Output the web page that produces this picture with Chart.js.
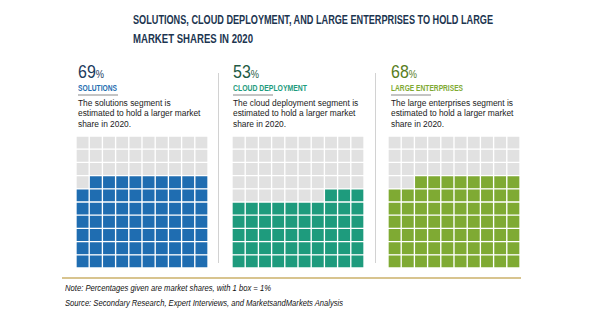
<!DOCTYPE html>
<html>
<head>
<meta charset="utf-8">
<script src="https://cdn.jsdelivr.net/npm/chart.js@4.4.1/dist/chart.umd.min.js"></script>
<style>
  body { margin: 0; width: 600px; height: 325px; background: #fff; position: relative; overflow: hidden;
         font-family: "Liberation Sans", Arial, sans-serif; }
  .abs { position: absolute; white-space: nowrap; transform-origin: 0 0; }
  .title { font-weight: bold; font-size: 13px; line-height: 13px; color: #1c3550; }
  .num { font-size: 19px; line-height: 19px; }
  .num small { font-size: 11px; }
  .seg { font-weight: bold; font-size: 9px; line-height: 9px; }
  .rule { height: 2px; width: 40px; background: #c4c4c4; }
  .desc { font-size: 8.4px; line-height: 10.3px; color: #1a1a1a; }
  .sep { width: 1px; background: #d2d2d2; top: 73px; height: 190px; }
  #gold { left: 62px; top: 277px; width: 459px; height: 1.5px; background: #d8c48f; }
  .note { font-style: italic; font-size: 9px; line-height: 9px; color: #111; }
</style>
</head>
<body>
<div class="abs title" style="left:133px;top:13px" data-fit="360">SOLUTIONS, CLOUD DEPLOYMENT, AND LARGE ENTERPRISES TO HOLD LARGE</div>
<div class="abs title" style="left:133px;top:31.5px" data-fit="120">MARKET SHARES IN 2020</div>
<div class="abs sep" style="left:218px"></div>
<div class="abs sep" style="left:375px"></div>
<div id="gold" class="abs"></div>
<div class="abs note" style="left:65px;top:284px" data-fit="206">Note: Percentages given are market shares, with 1 box = 1%</div>
<div class="abs note" style="left:65px;top:299px" data-fit="278">Source: Secondary Research, Expert Interviews, and MarketsandMarkets Analysis</div>
<script>
const segments = ["SOLUTIONS", "CLOUD DEPLOYMENT", "LARGE ENTERPRISES"];
const shares = [69, 53, 68];
const descriptions = [
  ["The solutions segment is", "estimated to hold a larger market", "share in 2020."],
  ["The cloud deployment segment is", "estimated to hold a larger market", "share in 2020."],
  ["The large enterprises segment is", "estimated to hold a larger market", "share in 2020."]
];
const columns = ["1", "2", "3", "4", "5", "6", "7", "8", "9", "10"];
const rows = ["1", "2", "3", "4", "5", "6", "7", "8", "9", "10"];

// colours and placement of each panel
const fillColors = ["#1f6db1", "#1e9b7d", "#7faa33"];
const numColors = ["#1b3a5c", "#1f5a44", "#587d1c"];
const segColors = ["#1f6db1", "#1e9b7d", "#7faa33"];
const segWidths = [39, 74, 72];
const emptyColor = "#e1e1e1";
const panelX = [78, 233, 391];
const gridX = [75.7, 232.3, 388];

function cellColor(share, r, c, color) {
  // boxes fill from the bottom row up, right to left within a row
  const k = r * columns.length + (columns.length - 1 - c);
  return k < share ? color : emptyColor;
}

segments.forEach((name, i) => {
  const x = panelX[i];
  const html = `
    <div class="abs num" style="left:${x}px;top:62px;color:${numColors[i]}" data-fit="26">${shares[i]}<small>%</small></div>
    <div class="abs seg" style="left:${x}px;top:84px;color:${segColors[i]}" data-fit="${segWidths[i]}">${name}</div>
    <div class="abs rule" style="left:${x}px;top:93.5px"></div>
    <div class="abs desc" style="left:${x}px;top:98px">${descriptions[i].join("<br>")}</div>
    <canvas id="w${i}" class="abs" width="132" height="132" style="left:${gridX[i]}px;top:135.7px"></canvas>`;
  document.body.insertAdjacentHTML("beforeend", html);
});

// squeeze condensed-looking text to its set width
document.querySelectorAll("[data-fit]").forEach(el => {
  const w = el.getBoundingClientRect().width;
  el.style.transform = `scaleX(${+el.dataset.fit / w})`;
});

segments.forEach((name, i) => {
  const datasets = rows.map((row, r) => ({
    label: row,
    data: columns.map(() => 1),
    backgroundColor: columns.map((_, c) => cellColor(shares[i], r, c, fillColors[i])),
    borderColor: "#ffffff",
    borderWidth: 1,
    borderSkipped: false,
    categoryPercentage: 1,
    barPercentage: 1
  }));
  new Chart(document.getElementById("w" + i), {
    type: "bar",
    data: { labels: columns, datasets },
    options: {
      responsive: false,
      animation: false,
      events: [],
      layout: { padding: 0 },
      plugins: { legend: { display: false }, tooltip: { enabled: false } },
      scales: {
        x: { display: false, stacked: true },
        y: { display: false, stacked: true, min: 0, max: rows.length }
      }
    }
  });
});
</script>
</body>
</html>
